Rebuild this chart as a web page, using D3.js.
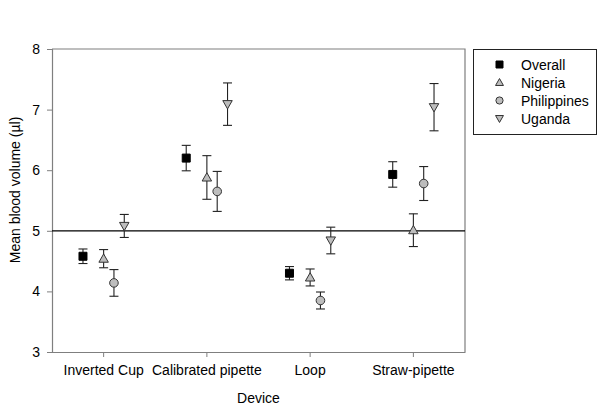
<!DOCTYPE html>
<html>
<head>
<meta charset="utf-8">
<script src="https://cdn.jsdelivr.net/npm/d3@7"></script>
<style>
  html, body { margin: 0; padding: 0; background: #fff; }
  svg { display: block; font-family: "Liberation Sans", Arial, sans-serif; }
</style>
</head>
<body>
<svg id="chart" width="600" height="410"></svg>
<script>
// ---- data ----
const devices = ["Inverted Cup", "Calibrated pipette", "Loop", "Straw-pipette"];
const seriesNames = ["Overall", "Nigeria", "Philippines", "Uganda"];
const overallMean = [4.58, 6.20, 4.30, 5.93];
const overallErr  = [0.12, 0.21, 0.11, 0.21];
const nigeriaMean = [4.54, 5.88, 4.23, 5.01];
const nigeriaErr  = [0.15, 0.36, 0.14, 0.27];
const philippinesMean = [4.14, 5.65, 3.85, 5.78];
const philippinesErr  = [0.22, 0.33, 0.14, 0.28];
const ugandaMean = [5.08, 7.09, 4.84, 7.04];
const ugandaErr  = [0.19, 0.35, 0.22, 0.39];
const yTicks = [3, 4, 5, 6, 7, 8];
const refValue = 5;
const seriesOffsets = [-0.2, 0, 0.1, 0.2]; // fraction of category spacing

const series = [
  { name: seriesNames[0], mean: overallMean, err: overallErr, shape: "square" },
  { name: seriesNames[1], mean: nigeriaMean, err: nigeriaErr, shape: "triUp" },
  { name: seriesNames[2], mean: philippinesMean, err: philippinesErr, shape: "circle" },
  { name: seriesNames[3], mean: ugandaMean, err: ugandaErr, shape: "triDown" }
];

// ---- layout ----
const svg = d3.select("#chart");
const L = 52, R = 465, T = 49, B = 352;
const axisColor = "#7f7f7f";

const x = d3.scaleBand().domain(devices).range([L, R]).padding(0);
const y = d3.scaleLinear().domain([3, 8]).range([B, T]);

// frame (top and right)
svg.append("path")
  .attr("d", `M${L},${T}H${R}V${B}`)
  .attr("fill", "none").attr("stroke", axisColor).attr("stroke-width", 1.2);

// y axis
const yAxis = svg.append("g").attr("transform", `translate(${L},0)`)
  .call(d3.axisLeft(y).tickValues(yTicks).tickSize(5).tickPadding(7).tickFormat(d3.format("d")));
yAxis.select(".domain").attr("stroke", axisColor).attr("stroke-width", 1.2);
yAxis.selectAll(".tick line").attr("stroke", axisColor);
yAxis.selectAll(".tick text").attr("fill", "#000").style("font-size", "14px");

// x axis
const xAxis = svg.append("g").attr("transform", `translate(0,${B})`)
  .call(d3.axisBottom(x).tickSize(5).tickSizeOuter(0).tickPadding(8));
xAxis.select(".domain").attr("stroke", axisColor).attr("stroke-width", 1.2);
xAxis.selectAll(".tick line").attr("stroke", axisColor);
xAxis.selectAll(".tick text").attr("fill", "#000").style("font-size", "14px");

// axis titles
svg.append("text").attr("x", (L + R) / 2).attr("y", 403)
  .attr("text-anchor", "middle").style("font-size", "14px").text("Device");
svg.append("text")
  .attr("transform", `translate(20,${190}) rotate(-90)`)
  .attr("text-anchor", "middle").style("font-size", "14px")
  .text("Mean blood volume (µl)");

// reference line
svg.append("line")
  .attr("x1", L).attr("x2", R).attr("y1", y(refValue)).attr("y2", y(refValue))
  .attr("stroke", "#000").attr("stroke-width", 1.2);

// marker shape
function shapePath(shape, s) {
  if (shape === "square") return `M${-s},${-s}H${s}V${s}H${-s}Z`;
  if (shape === "circle") return `M${-s},0A${s},${s} 0 1,0 ${s},0A${s},${s} 0 1,0 ${-s},0Z`;
  const h = s * 1.1;
  if (shape === "triUp") return `M0,${-h}L${h},${h * 0.75}L${-h},${h * 0.75}Z`;
  return `M0,${h}L${h},${-h * 0.75}L${-h},${-h * 0.75}Z`;
}

const step = x.bandwidth();
const cap = 4.5;

series.forEach((s, si) => {
  const g = svg.append("g");
  devices.forEach((dev, i) => {
    const cx = x(dev) + step / 2 + seriesOffsets[si] * step;
    const m = s.mean[i], e = s.err[i];
    const y1 = y(m + e), y2 = y(m - e);
    const eb = g.append("g").attr("stroke", "#222").attr("stroke-width", 1.1);
    eb.append("line").attr("x1", cx).attr("x2", cx).attr("y1", y1).attr("y2", y2);
    eb.append("line").attr("x1", cx - cap).attr("x2", cx + cap).attr("y1", y1).attr("y2", y1);
    eb.append("line").attr("x1", cx - cap).attr("x2", cx + cap).attr("y1", y2).attr("y2", y2);
    g.append("path")
      .attr("transform", `translate(${cx},${y(m)})`)
      .attr("d", shapePath(s.shape, s.shape === "square" ? 4 : 4.3))
      .attr("fill", s.shape === "square" ? "#000" : "#bdbdbd")
      .attr("stroke", s.shape === "square" ? "#000" : "#333")
      .attr("stroke-width", 1);
  });
});

// legend
const lg = svg.append("g");
lg.append("rect").attr("x", 473.5).attr("y", 49.5).attr("width", 123).attr("height", 85)
  .attr("fill", "#fff").attr("stroke", "#222").attr("stroke-width", 1);
series.forEach((s, si) => {
  const ly = 64.5 + si * 18;
  lg.append("path").attr("transform", `translate(499.5,${ly})`)
    .attr("d", shapePath(s.shape, s.shape === "square" ? 3.5 : 3.6))
    .attr("fill", s.shape === "square" ? "#000" : "#bdbdbd")
    .attr("stroke", s.shape === "square" ? "#000" : "#333").attr("stroke-width", 1);
  lg.append("text").attr("x", 521).attr("y", ly + 5)
    .style("font-size", "14px").text(s.name);
});
</script>
</body>
</html>
